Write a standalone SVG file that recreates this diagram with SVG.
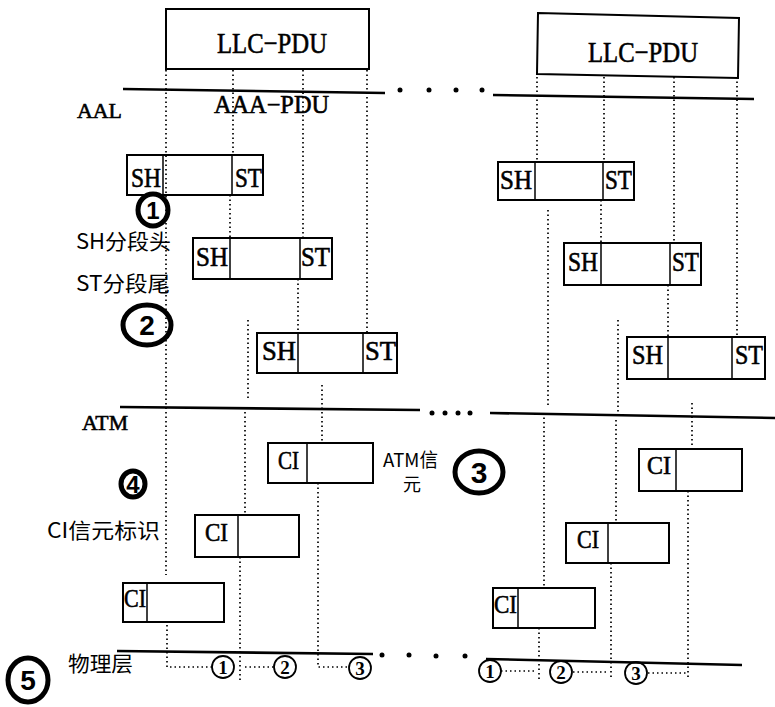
<svg xmlns="http://www.w3.org/2000/svg" width="775" height="707" viewBox="0 0 775 707">
<style>
.bx{fill:none;stroke:#000;stroke-width:2}
.dv{stroke:#000;stroke-width:1.5}
.ln{stroke:#000;stroke-width:2.6;fill:none}
.dt{stroke:#000;stroke-width:1.7;stroke-dasharray:1.5 3;fill:none}
.sf{font-family:"Liberation Serif","DejaVu Serif",serif;fill:#000;stroke:#000;stroke-width:0.6}
.cj{font-family:"Noto Sans CJK SC","Noto Sans",sans-serif;fill:#000}
.hw{fill:none;stroke:#000;stroke-width:5}
.hn{font-family:"Liberation Sans",sans-serif;font-weight:bold;fill:#000;text-anchor:middle}
.sc{fill:none;stroke:#000;stroke-width:1.8}
.sn{font-family:"Liberation Serif",serif;font-size:19px;font-weight:bold;text-anchor:middle;fill:#000}
</style>
<rect width="775" height="707" fill="#fff"/>

<g id="layer-lines">
<path class="ln" d="M123 89 L385 93"/>
<path class="ln" d="M493 95 L754 99"/>
<path class="ln" d="M120 407 L420 410"/>
<path class="ln" d="M490 413 L775 418"/>
<path class="ln" d="M117 651 L373 654"/>
<path class="ln" d="M486 659 L742 665"/>
<g fill="#000">
<circle cx="400" cy="90" r="2.5"/><circle cx="429" cy="90" r="2.5"/><circle cx="456" cy="90" r="2.5"/><circle cx="482" cy="90" r="2.5"/>
<circle cx="432" cy="413" r="2.5"/><circle cx="445" cy="413" r="2.5"/><circle cx="458" cy="413" r="2.5"/><circle cx="470" cy="413" r="2.5"/>
<circle cx="382" cy="655" r="2.5"/><circle cx="409" cy="655" r="2.5"/><circle cx="436" cy="656" r="2.5"/><circle cx="465" cy="656" r="2.5"/>
</g>
</g>

<g id="connectors">
<path class="dt" d="M166 70 V575"/>
<path class="dt" d="M167 625 V667 H212"/>
<path class="dt" d="M233 70 V155"/>
<path class="dt" d="M230 195 V238"/>
<path class="dt" d="M248 320 V400"/>
<path class="dt" d="M245 412 V515"/>
<path class="dt" d="M240 557 V680"/>
<path class="dt" d="M245 667 H274"/>
<path class="dt" d="M303 70 V238"/>
<path class="dt" d="M298 279 V333"/>
<path class="dt" d="M322 385 V443"/>
<path class="dt" d="M318 483 V667 H349"/>
<path class="dt" d="M367 70 V333"/>
<path class="dt" d="M537 77 V162"/>
<path class="dt" d="M548 210 V407"/>
<path class="dt" d="M544 413 V588"/>
<path class="dt" d="M539 628 V680"/>
<path class="dt" d="M501 671 H535"/>
<path class="dt" d="M604 77 V162"/>
<path class="dt" d="M601 200 V243"/>
<path class="dt" d="M618 320 V417"/>
<path class="dt" d="M616 420 V523"/>
<path class="dt" d="M611 563 V680"/>
<path class="dt" d="M573 672 H606"/>
<path class="dt" d="M674 77 V243"/>
<path class="dt" d="M668 285 V337"/>
<path class="dt" d="M692 403 V449"/>
<path class="dt" d="M688 491 V678"/>
<path class="dt" d="M648 673 H686"/>
<path class="dt" d="M737 77 V337"/>
</g>

<g id="llc-left">
<rect class="bx" x="166" y="9" width="203" height="60"/>
<text class="sf" x="217" y="53" font-size="30" textLength="110" lengthAdjust="spacingAndGlyphs">LLC−PDU</text>
</g>
<g id="llc-right">
<path class="bx" d="M538 13 L739 18 L738 78 L537 74 Z"/>
<text class="sf" x="588" y="62" font-size="30" textLength="110" lengthAdjust="spacingAndGlyphs">LLC−PDU</text>
</g>

<g id="labels">
<text class="sf" x="77" y="118" font-size="22" textLength="45" lengthAdjust="spacingAndGlyphs">AAL</text>
<text class="sf" x="214" y="113" font-size="25" textLength="115" lengthAdjust="spacingAndGlyphs">AAA−PDU</text>
<text class="sf" x="82" y="430" font-size="22" textLength="46" lengthAdjust="spacingAndGlyphs">ATM</text>
<text class="cj" x="76" y="249" font-size="21" textLength="95" lengthAdjust="spacingAndGlyphs">SH分段头</text>
<text class="cj" x="76" y="291" font-size="21" textLength="94" lengthAdjust="spacingAndGlyphs">ST分段尾</text>
<text class="cj" x="47" y="538" font-size="21" textLength="113" lengthAdjust="spacingAndGlyphs">CI信元标识</text>
<text class="cj" x="383" y="467" font-size="19" textLength="55" lengthAdjust="spacingAndGlyphs">ATM信</text>
<text class="cj" x="403" y="491" font-size="18">元</text>
<text class="cj" x="68" y="671" font-size="21" textLength="65" lengthAdjust="spacingAndGlyphs">物理层</text>
</g>

<g id="seg-l1">
<rect class="bx" x="127" y="155" width="136" height="40"/>
<line class="dv" x1="163" y1="155" x2="163" y2="195"/><line class="dv" x1="232" y1="155" x2="232" y2="195"/>
<text class="sf" x="131" y="187" font-size="27" textLength="30" lengthAdjust="spacingAndGlyphs">SH</text>
<text class="sf" x="235" y="187" font-size="27" textLength="27" lengthAdjust="spacingAndGlyphs">ST</text>
</g>
<g id="seg-l2">
<rect class="bx" x="193" y="238" width="139" height="41"/>
<line class="dv" x1="230" y1="238" x2="230" y2="279"/><line class="dv" x1="300" y1="238" x2="300" y2="279"/>
<text class="sf" x="196" y="266" font-size="27" textLength="32" lengthAdjust="spacingAndGlyphs">SH</text>
<text class="sf" x="301" y="266" font-size="27" textLength="29" lengthAdjust="spacingAndGlyphs">ST</text>
</g>
<g id="seg-l3">
<rect class="bx" x="257" y="333" width="140" height="40"/>
<line class="dv" x1="298" y1="333" x2="298" y2="373"/><line class="dv" x1="363" y1="333" x2="363" y2="373"/>
<text class="sf" x="262" y="360" font-size="27" textLength="34" lengthAdjust="spacingAndGlyphs">SH</text>
<text class="sf" x="365" y="360" font-size="27" textLength="31" lengthAdjust="spacingAndGlyphs">ST</text>
</g>
<g id="seg-r1">
<rect class="bx" x="498" y="162" width="136" height="38"/>
<line class="dv" x1="535" y1="162" x2="535" y2="200"/><line class="dv" x1="603" y1="162" x2="603" y2="200"/>
<text class="sf" x="500" y="189" font-size="27" textLength="32" lengthAdjust="spacingAndGlyphs">SH</text>
<text class="sf" x="605" y="189" font-size="27" textLength="27" lengthAdjust="spacingAndGlyphs">ST</text>
</g>
<g id="seg-r2">
<rect class="bx" x="564" y="243" width="137" height="42"/>
<line class="dv" x1="601" y1="243" x2="601" y2="285"/><line class="dv" x1="670" y1="243" x2="670" y2="285"/>
<text class="sf" x="568" y="271" font-size="27" textLength="30" lengthAdjust="spacingAndGlyphs">SH</text>
<text class="sf" x="672" y="271" font-size="27" textLength="27" lengthAdjust="spacingAndGlyphs">ST</text>
</g>
<g id="seg-r3">
<rect class="bx" x="627" y="337" width="138" height="42"/>
<line class="dv" x1="668" y1="337" x2="668" y2="379"/><line class="dv" x1="732" y1="337" x2="732" y2="379"/>
<text class="sf" x="632" y="364" font-size="27" textLength="31" lengthAdjust="spacingAndGlyphs">SH</text>
<text class="sf" x="735" y="364" font-size="27" textLength="28" lengthAdjust="spacingAndGlyphs">ST</text>
</g>

<g id="cell-l1">
<rect class="bx" x="268" y="443" width="105" height="40"/>
<line class="dv" x1="307" y1="443" x2="307" y2="483"/>
<text class="sf" x="278" y="469" font-size="26" textLength="21" lengthAdjust="spacingAndGlyphs">CI</text>
</g>
<g id="cell-l2">
<rect class="bx" x="195" y="515" width="104" height="42"/>
<line class="dv" x1="238" y1="515" x2="238" y2="557"/>
<text class="sf" x="205" y="541" font-size="26" textLength="23" lengthAdjust="spacingAndGlyphs">CI</text>
</g>
<g id="cell-l3">
<rect class="bx" x="123" y="583" width="101" height="39"/>
<line class="dv" x1="147" y1="583" x2="147" y2="622"/>
<text class="sf" x="124" y="607" font-size="26" textLength="22" lengthAdjust="spacingAndGlyphs">CI</text>
</g>
<g id="cell-r1">
<rect class="bx" x="639" y="449" width="103" height="42"/>
<line class="dv" x1="676" y1="449" x2="676" y2="491"/>
<text class="sf" x="647" y="474" font-size="26" textLength="24" lengthAdjust="spacingAndGlyphs">CI</text>
</g>
<g id="cell-r2">
<rect class="bx" x="566" y="523" width="103" height="40"/>
<line class="dv" x1="608" y1="523" x2="608" y2="563"/>
<text class="sf" x="577" y="548" font-size="26" textLength="22" lengthAdjust="spacingAndGlyphs">CI</text>
</g>
<g id="cell-r3">
<rect class="bx" x="493" y="588" width="102" height="40"/>
<line class="dv" x1="518" y1="588" x2="518" y2="628"/>
<text class="sf" x="494" y="613" font-size="26" textLength="23" lengthAdjust="spacingAndGlyphs">CI</text>
</g>

<g id="hand-marks">
<ellipse class="hw" cx="153" cy="210" rx="15" ry="16"/>
<text class="hn" x="153" y="219" font-size="24">1</text>
<ellipse class="hw" cx="147" cy="325" rx="24" ry="20"/>
<text class="hn" x="147" y="335" font-size="28">2</text>
<ellipse class="hw" cx="133" cy="484" rx="12" ry="13" stroke-width="8"/>
<text class="hn" x="133" y="493" font-size="24">4</text>
<ellipse class="hw" cx="479" cy="472" rx="24" ry="21"/>
<text class="hn" x="479" y="483" font-size="30">3</text>
<ellipse class="hw" cx="28" cy="680" rx="20" ry="22"/>
<text class="hn" x="28" y="690" font-size="28">5</text>
</g>

<g id="phys-nums">
<circle class="sc" cx="223" cy="667" r="11"/><text class="sn" x="223" y="674">1</text>
<circle class="sc" cx="285" cy="667" r="11"/><text class="sn" x="285" y="674">2</text>
<circle class="sc" cx="360" cy="668" r="11"/><text class="sn" x="360" y="675">3</text>
<circle class="sc" cx="490" cy="671" r="11"/><text class="sn" x="490" y="678">1</text>
<circle class="sc" cx="561" cy="672" r="11"/><text class="sn" x="561" y="679">2</text>
<circle class="sc" cx="636" cy="673" r="11"/><text class="sn" x="636" y="680">3</text>
</g>
</svg>
